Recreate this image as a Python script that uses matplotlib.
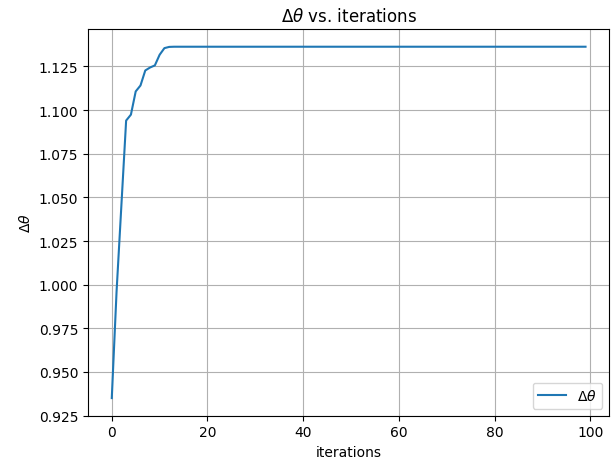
import matplotlib
matplotlib.use("Agg")
import matplotlib.pyplot as plt

iterations = list(range(100))
delta_theta = [
    0.9350, 0.9960, 1.0450, 1.0940, 1.0974, 1.1107, 1.1141, 1.1227, 1.1244, 1.1256,
    1.1317, 1.1355, 1.1362, 1.1363, 1.1363, 1.1363, 1.1363, 1.1363, 1.1363, 1.1363,
    1.1363, 1.1363, 1.1363, 1.1363, 1.1363, 1.1363, 1.1363, 1.1363, 1.1363, 1.1363,
    1.1363, 1.1363, 1.1363, 1.1363, 1.1363, 1.1363, 1.1363, 1.1363, 1.1363, 1.1363,
    1.1363, 1.1363, 1.1363, 1.1363, 1.1363, 1.1363, 1.1363, 1.1363, 1.1363, 1.1363,
    1.1363, 1.1363, 1.1363, 1.1363, 1.1363, 1.1363, 1.1363, 1.1363, 1.1363, 1.1363,
    1.1363, 1.1363, 1.1363, 1.1363, 1.1363, 1.1363, 1.1363, 1.1363, 1.1363, 1.1363,
    1.1363, 1.1363, 1.1363, 1.1363, 1.1363, 1.1363, 1.1363, 1.1363, 1.1363, 1.1363,
    1.1363, 1.1363, 1.1363, 1.1363, 1.1363, 1.1363, 1.1363, 1.1363, 1.1363, 1.1363,
    1.1363, 1.1363, 1.1363, 1.1363, 1.1363, 1.1363, 1.1363, 1.1363, 1.1363, 1.1363,
]

fig, ax = plt.subplots(figsize=(6.16, 4.64), dpi=100)
fig.subplots_adjust(left=0.143, right=0.989, top=0.935, bottom=0.102)
ax.plot(iterations, delta_theta, label=r"$\Delta\theta$")
ax.set_title(r"$\Delta\theta$ vs. iterations")
ax.set_xlabel("iterations")
ax.set_ylabel(r"$\Delta\theta$")
ax.grid(True)
ax.legend(loc="lower right")
fig.savefig("out.png", dpi=100)
